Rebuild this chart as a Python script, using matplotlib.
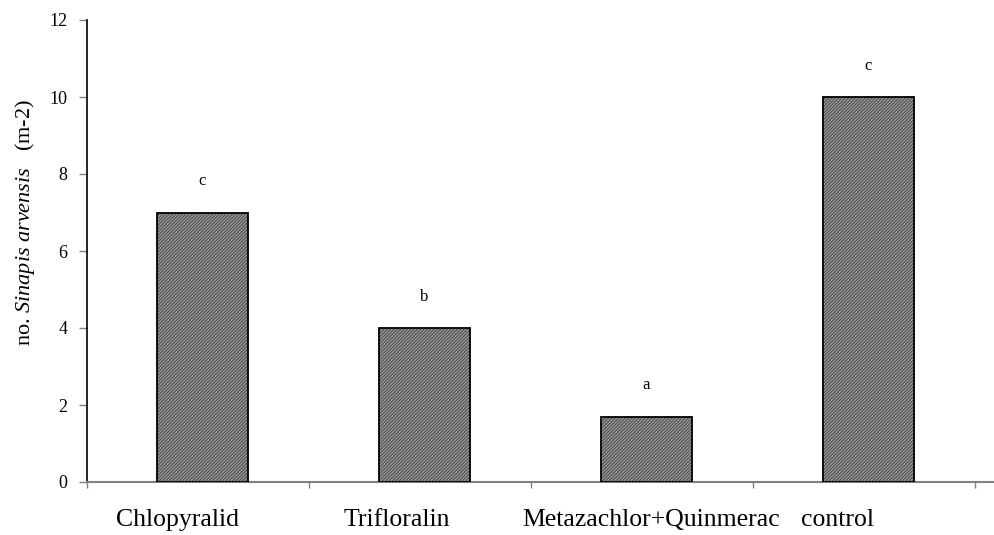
import matplotlib
matplotlib.use("Agg")
import matplotlib.pyplot as plt
import numpy as np
from matplotlib.transforms import ScaledTranslation

plt.rcParams['font.family'] = ['Liberation Serif', 'DejaVu Serif']
plt.rcParams['mathtext.fontset'] = 'custom'
plt.rcParams['mathtext.rm'] = 'Liberation Serif'
plt.rcParams['mathtext.it'] = 'Liberation Serif:italic'

categories = ["Chlopyralid", "Trifloralin", "Metazachlor+Quinmerac", "control"]
values = [7.0, 4.0, 1.7, 10.0]
letters = ["c", "b", "a", "c"]
yticks = [0, 2, 4, 6, 8, 10, 12]

fig = plt.figure(figsize=(9.94, 5.35), dpi=100)
ax = fig.add_axes([87 / 994, 1 - 482 / 535, 1 - 87 / 994, (482 - 20) / 535])

x = np.arange(len(categories))
width = 0.41
# hatched fill first, then the black outline on top
ax.bar(x + 0.02, values, width, color="#a0a0a0", hatch="//////////", edgecolor="#5a5a5a",
       linewidth=0, zorder=2)
ax.bar(x + 0.02, values, width, fill=False, edgecolor="black", linewidth=1.3, zorder=3)

for xi, v, lt in zip(x, values, letters):
    ax.text(xi + 0.02, v + 0.6, lt, ha="center", va="bottom", fontsize=12)

ax.set_xlim(-0.5, 3.585)
ax.set_ylim(0, 12)
ax.set_yticks(yticks)
ax.set_yticklabels([str(t) for t in yticks], fontsize=13)
ax.tick_params(axis="y", direction="out", length=6, width=1, color="#808080", pad=8)

ax.set_xticks(np.arange(-0.5, 4, 1.0))
ax.set_xticklabels([])
ax.tick_params(axis="x", direction="out", length=4, width=1, color="#808080")

# category names sit under the bars, nudged a bit like in the original
shifts = [-21, -23, 9, -27]
for xi, name, s in zip(x, categories, shifts):
    t = ax.text(xi, -0.98, name, ha="center", va="center", fontsize=18.5)
    t.set_transform(ax.transData + ScaledTranslation(s / 100, 0, fig.dpi_scale_trans))

for side in ["top", "right"]:
    ax.spines[side].set_visible(False)
ax.spines["left"].set_color("black")
ax.spines["left"].set_linewidth(1.2)
ax.spines["bottom"].set_color("#808080")
ax.spines["bottom"].set_linewidth(1.5)

fig.text(25 / 994, 1 - 223 / 535, r"no. $\mathit{Sinapis\ arvensis}$   (m-2)",
         rotation=90, ha="center", va="center", fontsize=16)

fig.savefig("out.png", dpi=100)
